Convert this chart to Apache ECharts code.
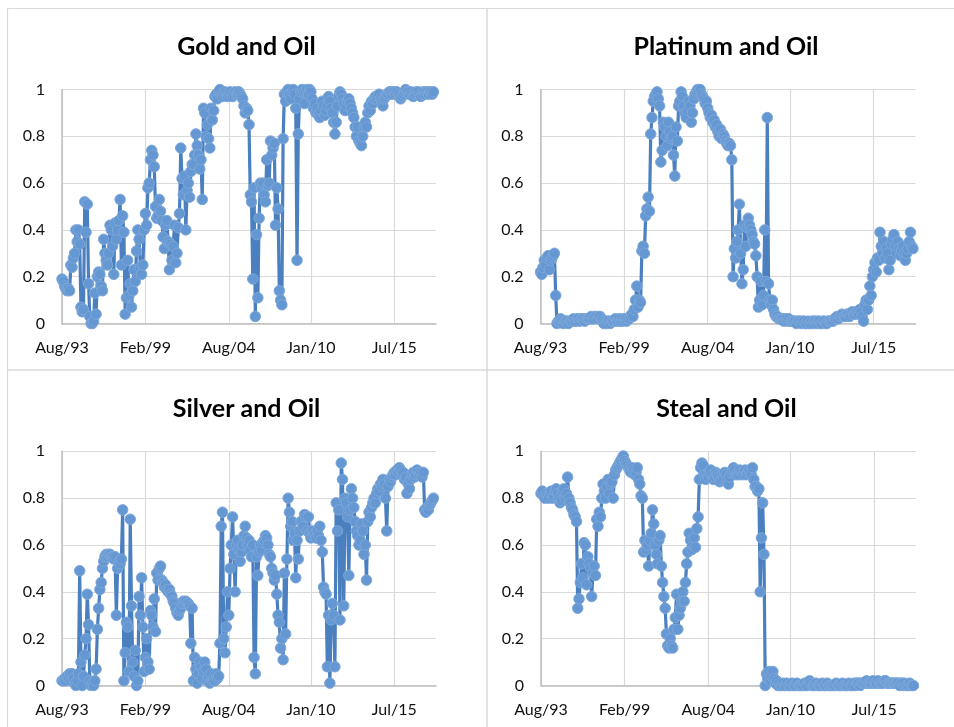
<!DOCTYPE html>
<html>
<head>
<meta charset="utf-8">
<script src="https://cdn.jsdelivr.net/npm/echarts@6/dist/echarts.min.js"></script>
<style>
html,body{margin:0;padding:0;background:#fff;}
#chart{width:954px;height:727px;}
</style>
</head>
<body>
<div id="chart"></div>
<script>
// Monthly values starting Aug 1993
const startYear = 1993, startMonth = 7; // Aug (0-based)
const monthCount = 297;
const monthNames = ['Jan','Feb','Mar','Apr','May','Jun','Jul','Aug','Sep','Oct','Nov','Dec'];
const tickLabels = ['Aug/93','Feb/99','Aug/04','Jan/10','Jul/15'];
const yTicks = [0, 0.2, 0.4, 0.6, 0.8, 1];

const gold = [
0.19,0.18,0.16,0.15,0.14,0.15,0.14,0.25,0.24,0.28,
0.30,0.40,0.35,0.40,0.34,0.07,0.05,0.06,0.52,0.39,
0.51,0.17,0.03,0.00,0.00,0.01,0.13,0.04,0.20,0.22,
0.21,0.16,0.14,0.36,0.30,0.27,0.25,0.30,0.42,0.40,
0.33,0.21,0.43,0.36,0.40,0.44,0.53,0.25,0.46,0.39,
0.04,0.11,0.27,0.12,0.17,0.07,0.14,0.23,0.18,0.31,
0.40,0.36,0.24,0.21,0.25,0.40,0.47,0.42,0.58,0.60,
0.70,0.74,0.72,0.67,0.50,0.45,0.46,0.53,0.48,0.44,
0.37,0.32,0.42,0.44,0.35,0.23,0.34,0.27,0.33,0.42,
0.26,0.30,0.41,0.47,0.75,0.62,0.55,0.63,0.40,0.57,
0.60,0.54,0.65,0.68,0.68,0.72,0.81,0.76,0.72,0.66,
0.70,0.53,0.92,0.90,0.80,0.85,0.79,0.75,0.92,0.87,
0.91,0.97,0.98,0.96,0.99,1.00,0.98,0.97,0.98,0.99,
0.98,0.97,0.98,0.99,0.98,0.97,0.98,0.99,0.98,0.98,
0.99,0.98,0.97,0.96,0.93,0.90,0.92,0.91,0.85,0.55,
0.52,0.19,0.58,0.03,0.38,0.11,0.45,0.60,0.58,0.60,
0.55,0.52,0.70,0.59,0.60,0.78,0.72,0.75,0.77,0.42,
0.58,0.49,0.14,0.10,0.08,0.79,0.98,0.95,0.99,1.00,
0.98,0.96,0.99,1.00,0.98,0.92,0.27,0.81,0.96,0.99,
1.00,0.99,0.94,0.99,1.00,0.98,1.00,0.99,0.96,0.92,
0.94,0.90,0.92,0.89,0.88,0.91,0.95,0.93,0.89,0.91,
0.93,0.97,0.95,0.92,0.90,0.86,0.81,0.86,0.93,0.97,
0.99,0.98,0.96,0.94,0.91,0.93,0.95,0.96,0.94,0.92,
0.90,0.88,0.84,0.80,0.84,0.78,0.77,0.76,0.80,0.84,
0.86,0.84,0.90,0.93,0.91,0.95,0.94,0.96,0.97,0.96,
0.97,0.98,0.96,0.95,0.93,0.96,0.97,0.98,0.98,0.99,
0.99,0.98,0.99,0.99,0.98,0.99,0.98,0.97,0.96,0.97,
0.98,0.99,1.00,0.99,0.99,0.98,0.99,0.98,0.97,0.98,
0.99,0.98,0.99,0.98,0.97,0.98,0.99,0.98,0.99,0.99,
0.98,0.99,0.99,0.98,0.99
];

const platinum = [
0.22,0.21,0.24,0.27,0.25,0.28,0.29,0.23,0.27,0.28,
0.29,0.30,0.12,0.00,0.01,0.01,0.02,0.01,0.00,0.01,
0.01,0.01,0.00,0.01,0.01,0.01,0.02,0.01,0.01,0.02,
0.02,0.01,0.02,0.02,0.02,0.01,0.02,0.02,0.02,0.02,
0.03,0.02,0.02,0.03,0.03,0.02,0.03,0.03,0.02,0.01,
0.00,0.01,0.00,0.01,0.01,0.00,0.01,0.01,0.01,0.02,
0.01,0.01,0.02,0.01,0.02,0.01,0.02,0.02,0.01,0.02,
0.02,0.03,0.04,0.03,0.06,0.10,0.16,0.07,0.10,0.09,
0.31,0.33,0.30,0.46,0.49,0.54,0.48,0.81,0.88,0.95,
0.97,0.98,0.99,0.96,0.93,0.69,0.74,0.86,0.84,0.80,
0.76,0.86,0.82,0.79,0.80,0.72,0.63,0.84,0.78,0.93,
0.95,0.99,0.97,0.93,0.90,0.88,0.91,0.95,0.93,0.86,
0.90,0.96,0.98,0.99,1.00,0.99,1.00,0.98,0.97,0.96,
0.94,0.95,0.92,0.90,0.88,0.89,0.86,0.87,0.84,0.85,
0.82,0.80,0.83,0.79,0.81,0.80,0.78,0.77,0.76,0.77,
0.76,0.70,0.20,0.32,0.28,0.35,0.40,0.51,0.30,0.17,
0.23,0.42,0.33,0.41,0.45,0.42,0.40,0.38,0.35,0.34,
0.29,0.20,0.07,0.10,0.18,0.08,0.12,0.40,0.18,0.88,
0.17,0.10,0.08,0.10,0.06,0.04,0.03,0.03,0.02,0.02,
0.02,0.02,0.01,0.02,0.02,0.01,0.02,0.01,0.01,0.01,
0.01,0.01,0.00,0.01,0.01,0.01,0.00,0.01,0.01,0.00,
0.00,0.01,0.00,0.00,0.01,0.00,0.01,0.01,0.00,0.01,
0.01,0.00,0.00,0.01,0.01,0.00,0.00,0.01,0.01,0.01,
0.01,0.01,0.02,0.02,0.03,0.02,0.03,0.03,0.04,0.03,
0.03,0.03,0.04,0.04,0.03,0.04,0.05,0.04,0.04,0.05,
0.05,0.04,0.06,0.05,0.03,0.01,0.08,0.10,0.06,0.10,
0.16,0.12,0.20,0.23,0.26,0.22,0.28,0.27,0.39,0.33,
0.30,0.35,0.28,0.32,0.30,0.23,0.27,0.34,0.36,0.38,
0.33,0.30,0.35,0.32,0.29,0.31,0.33,0.30,0.27,0.30,
0.32,0.35,0.39,0.33,0.32
];

const silver = [
0.02,0.02,0.03,0.02,0.04,0.03,0.05,0.02,0.05,0.03,
0.01,0.00,0.02,0.05,0.49,0.10,0.00,0.04,0.13,0.20,
0.39,0.26,0.02,0.00,0.01,0.00,0.02,0.07,0.24,0.33,
0.41,0.44,0.50,0.53,0.55,0.56,0.55,0.56,0.56,0.55,
0.55,0.54,0.55,0.30,0.50,0.53,0.52,0.54,0.75,0.02,
0.14,0.27,0.25,0.06,0.71,0.34,0.10,0.04,0.15,0.00,
0.02,0.38,0.30,0.46,0.25,0.06,0.12,0.20,0.10,0.07,
0.32,0.30,0.25,0.37,0.23,0.48,0.45,0.50,0.51,0.45,
0.44,0.42,0.43,0.41,0.40,0.41,0.39,0.38,0.36,0.35,
0.33,0.31,0.30,0.32,0.33,0.35,0.36,0.35,0.36,0.35,
0.35,0.34,0.18,0.33,0.02,0.12,0.07,0.01,0.05,0.10,
0.08,0.03,0.06,0.10,0.07,0.02,0.04,0.01,0.05,0.02,
0.03,0.02,0.05,0.03,0.04,0.18,0.68,0.74,0.20,0.14,
0.25,0.40,0.30,0.50,0.60,0.72,0.56,0.40,0.60,0.62,
0.58,0.53,0.57,0.60,0.64,0.68,0.63,0.60,0.62,0.58,
0.55,0.60,0.12,0.05,0.55,0.47,0.57,0.60,0.58,0.61,
0.62,0.64,0.63,0.60,0.56,0.55,0.50,0.48,0.45,0.47,
0.39,0.30,0.27,0.16,0.20,0.11,0.48,0.22,0.54,0.80,
0.74,0.68,0.70,0.62,0.65,0.46,0.62,0.54,0.66,0.70,
0.70,0.68,0.73,0.72,0.66,0.72,0.65,0.63,0.66,0.64,
0.65,0.63,0.66,0.64,0.68,0.62,0.57,0.42,0.40,0.39,
0.08,0.30,0.01,0.28,0.35,0.30,0.08,0.78,0.66,0.75,
0.28,0.95,0.88,0.34,0.80,0.78,0.72,0.47,0.75,0.84,
0.80,0.76,0.70,0.66,0.64,0.60,0.62,0.69,0.66,0.56,
0.60,0.45,0.70,0.74,0.72,0.76,0.78,0.80,0.78,0.82,
0.84,0.83,0.86,0.85,0.88,0.86,0.80,0.66,0.85,0.88,
0.87,0.89,0.90,0.91,0.90,0.92,0.91,0.93,0.92,0.90,
0.91,0.88,0.89,0.82,0.86,0.84,0.88,0.90,0.91,0.89,
0.90,0.92,0.91,0.90,0.91,0.89,0.91,0.75,0.74,0.76,
0.75,0.77,0.78,0.79,0.80
];

const steal = [
0.82,0.83,0.81,0.80,0.82,0.81,0.80,0.82,0.83,0.80,
0.81,0.83,0.84,0.82,0.80,0.78,0.79,0.83,0.84,0.80,
0.82,0.89,0.80,0.78,0.76,0.75,0.73,0.72,0.70,0.33,
0.37,0.44,0.52,0.46,0.61,0.60,0.43,0.55,0.52,0.50,
0.38,0.48,0.51,0.47,0.71,0.68,0.74,0.72,0.80,0.86,
0.83,0.80,0.85,0.88,0.82,0.86,0.87,0.80,0.90,0.92,
0.93,0.94,0.95,0.96,0.97,0.98,0.96,0.95,0.94,0.93,
0.92,0.91,0.93,0.92,0.90,0.91,0.93,0.88,0.86,0.81,
0.80,0.57,0.62,0.58,0.60,0.51,0.62,0.65,0.75,0.69,
0.60,0.56,0.52,0.62,0.64,0.51,0.44,0.38,0.33,0.22,
0.17,0.16,0.20,0.17,0.16,0.24,0.29,0.39,0.24,0.30,
0.33,0.36,0.40,0.36,0.44,0.52,0.57,0.65,0.62,0.58,
0.60,0.63,0.59,0.67,0.72,0.88,0.93,0.95,0.94,0.90,
0.88,0.90,0.89,0.91,0.92,0.90,0.88,0.89,0.91,0.90,
0.89,0.87,0.88,0.90,0.89,0.91,0.90,0.88,0.86,0.89,
0.91,0.92,0.93,0.92,0.90,0.91,0.90,0.92,0.91,0.90,
0.91,0.92,0.90,0.91,0.92,0.91,0.90,0.93,0.88,0.85,
0.85,0.83,0.84,0.40,0.63,0.78,0.56,0.00,0.05,0.03,
0.06,0.02,0.04,0.06,0.03,0.01,0.02,0.00,0.01,0.00,
0.00,0.01,0.00,0.00,0.01,0.00,0.00,0.00,0.01,0.00,
0.00,0.00,0.01,0.00,0.00,0.00,0.00,0.00,0.01,0.00,
0.00,0.01,0.02,0.01,0.00,0.00,0.00,0.01,0.00,0.00,
0.00,0.00,0.01,0.00,0.00,0.00,0.01,0.00,0.00,0.00,
0.00,0.00,0.00,0.01,0.00,0.00,0.00,0.00,0.01,0.00,
0.00,0.00,0.00,0.01,0.00,0.00,0.00,0.01,0.00,0.01,
0.01,0.01,0.00,0.01,0.01,0.01,0.01,0.02,0.01,0.01,
0.01,0.01,0.02,0.01,0.01,0.01,0.02,0.01,0.01,0.01,
0.01,0.02,0.02,0.01,0.01,0.01,0.01,0.01,0.01,0.01,
0.01,0.01,0.01,0.00,0.01,0.01,0.00,0.01,0.00,0.00,
0.00,0.01,0.00,0.00,0.00
];

const categories = Array.from({length: monthCount}, (_, i) => {
  const t = startMonth + i;
  return monthNames[t % 12] + '/' + String(startYear + Math.floor(t / 12)).slice(2);
});

const panels = [
  {title: 'Gold and Oil',     data: gold,     grid: {left: 62,    top: 89.5, width: 374, height: 234}, tx: 246.5, ty: 47},
  {title: 'Platinum and Oil', data: platinum, grid: {left: 540.5, top: 89.5, width: 375, height: 234}, tx: 726,   ty: 47},
  {title: 'Silver and Oil',   data: silver,   grid: {left: 62,    top: 451.3, width: 374, height: 234.2}, tx: 246.5, ty: 408.5},
  {title: 'Steal and Oil',    data: steal,    grid: {left: 541,   top: 451.3, width: 375, height: 234.2}, tx: 726.5, ty: 408.5}
];

const FONT = 'Lato, "Open Sans", "Liberation Sans", sans-serif';
const isTick = (idx, val) => tickLabels.indexOf(val) >= 0;

const option = {
  animation: false,
  backgroundColor: '#ffffff',
  grid: panels.map(p => Object.assign({containLabel: false}, p.grid)),
  xAxis: panels.map((p, i) => ({
    type: 'category',
    gridIndex: i,
    data: categories,
    boundaryGap: false,
    axisLine: {show: true, lineStyle: {color: '#bfbfbf', width: 1.5}},
    axisTick: {show: false},
    axisLabel: {interval: isTick, margin: 16, color: '#111', fontFamily: FONT, fontSize: 16},
    splitLine: {show: true, interval: isTick, lineStyle: {color: '#d9d9d9', width: 1.2}}
  })),
  yAxis: panels.map((p, i) => ({
    type: 'value',
    gridIndex: i,
    min: yTicks[0],
    max: yTicks[yTicks.length - 1],
    interval: 0.2,
    axisLine: {show: true, lineStyle: {color: '#bfbfbf', width: 1.5}},
    axisTick: {show: false},
    axisLabel: {margin: 17, color: '#111', fontFamily: FONT, fontSize: 16},
    splitLine: {show: true, lineStyle: {color: '#d9d9d9', width: 1.2}}
  })),
  series: panels.map((p, i) => ({
    type: 'line',
    xAxisIndex: i,
    yAxisIndex: i,
    data: p.data,
    showSymbol: true,
    showAllSymbol: true,
    symbol: 'circle',
    symbolSize: 10.5,
    sampling: null,
    lineStyle: {color: '#4a7fc0', width: 3.2},
    itemStyle: {color: '#6597d2', borderColor: '#7ca8da', borderWidth: 1},
    emphasis: {disabled: true}
  })),
  graphic: [
    {type: 'rect', silent: true, shape: {x: 7.5, y: 8.5, width: 1000, height: 1000}, style: {fill: 'none', stroke: '#d9d9d9', lineWidth: 1.2}},
    {type: 'line', silent: true, shape: {x1: 487, y1: 8.5, x2: 487, y2: 727}, style: {stroke: '#d9d9d9', lineWidth: 1.5}},
    {type: 'line', silent: true, shape: {x1: 7.5, y1: 370, x2: 954, y2: 370}, style: {stroke: '#d9d9d9', lineWidth: 1.5}}
  ].concat(panels.map(p => ({
    type: 'text', silent: true, x: p.tx, y: p.ty,
    style: {text: p.title, fill: '#000', font: 'bold 25px ' + FONT, align: 'center', verticalAlign: 'middle'}
  })))
};

const chart = echarts.init(document.getElementById('chart'), null, {renderer: 'canvas'});
chart.setOption(option);
</script>
</body>
</html>
